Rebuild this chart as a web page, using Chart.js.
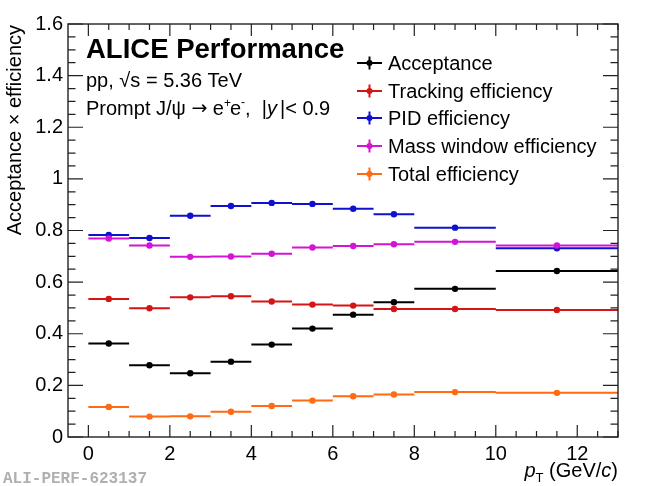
<!DOCTYPE html>
<html>
<head>
<meta charset="utf-8">
<script src="https://cdn.jsdelivr.net/npm/chart.js@4"></script>
<style>
  html, body { margin: 0; padding: 0; background: #fff; }
  #wrap { width: 650px; height: 486px; }
</style>
</head>
<body>
<div id="wrap"><canvas id="effChart" width="650" height="486"></canvas></div>
<script>
// pT bins (GeV/c)
const binLo = [0, 1, 2, 3, 4, 5, 6, 7, 8, 10];
const binHi = [1, 2, 3, 4, 5, 6, 7, 8, 10, 13];

// values per bin
const acceptance = [0.362, 0.278, 0.247, 0.292, 0.358, 0.420, 0.474, 0.522, 0.574, 0.643];
const tracking   = [0.535, 0.499, 0.541, 0.545, 0.525, 0.513, 0.509, 0.496, 0.496, 0.492];
const pid        = [0.783, 0.771, 0.857, 0.895, 0.907, 0.903, 0.884, 0.863, 0.811, 0.731];
const massWindow = [0.769, 0.742, 0.698, 0.699, 0.710, 0.734, 0.740, 0.747, 0.756, 0.742];
const total      = [0.116, 0.079, 0.080, 0.098, 0.120, 0.141, 0.158, 0.165, 0.174, 0.171];

const seriesNames = ['Acceptance', 'Tracking efficiency', 'PID efficiency', 'Mass window efficiency', 'Total efficiency'];
const seriesColors = ['#000000', '#d41515', '#1010d0', '#d414d4', '#ff6a12'];

const xTicks = [0, 2, 4, 6, 8, 10, 12];
const yTicks = [0, 0.2, 0.4, 0.6, 0.8, 1, 1.2, 1.4, 1.6];
const yTickLabels = ['0', '0.2', '0.4', '0.6', '0.8', '1', '1.2', '1.4', '1.6'];

const FONT = "'Liberation Sans', Arial, Helvetica, sans-serif";
const FS = 20;

// each bin -> low edge, centre (marker), high edge, then a gap
function binPoints(vals) {
    const pts = [];
    vals.forEach((v, i) => {
        pts.push({x: binLo[i], y: v});
        pts.push({x: (binLo[i] + binHi[i]) / 2, y: v});
        pts.push({x: binHi[i], y: v});
        pts.push({x: binHi[i], y: null});
    });
    return pts;
}

const allSeries = [acceptance, tracking, pid, massWindow, total];
const datasets = allSeries.map((vals, k) => ({
    label: seriesNames[k],
    data: binPoints(vals),
    showLine: true,
    spanGaps: false,
    borderColor: seriesColors[k],
    backgroundColor: seriesColors[k],
    borderWidth: 2,
    pointRadius: ctx => (ctx.dataIndex % 4 === 1 ? 3.2 : 0),
    pointHoverRadius: 0,
    pointBorderWidth: 0,
    order: 5 - k
}));

// frame, inward ticks and all the text ROOT puts on the pad
const padDecor = {
    id: 'padDecor',
    afterDraw(chart) {
        const ctx = chart.ctx;
        const a = chart.chartArea;
        const xs = chart.scales.x, ys = chart.scales.y;
        ctx.save();

        // frame
        ctx.strokeStyle = '#222';
        ctx.lineWidth = 1.4;
        ctx.strokeRect(a.left, a.top, a.right - a.left, a.bottom - a.top);

        // x ticks (bottom and top), major every 2, minor every 0.5
        ctx.lineWidth = 1.2;
        ctx.beginPath();
        for (let v = 0; v <= 13.001; v += 0.5) {
            const px = xs.getPixelForValue(v);
            const len = (Math.abs(v % 2) < 1e-6) ? 12 : 6;
            ctx.moveTo(px, a.bottom); ctx.lineTo(px, a.bottom - len);
            ctx.moveTo(px, a.top); ctx.lineTo(px, a.top + len);
        }
        // y ticks (left and right), major every 0.2, minor every 0.05
        for (let i = 0; i <= 32; i++) {
            const v = i * 0.05;
            const py = ys.getPixelForValue(v);
            const len = (i % 4 === 0) ? 15 : 7.5;
            ctx.moveTo(a.left, py); ctx.lineTo(a.left + len, py);
            ctx.moveTo(a.right, py); ctx.lineTo(a.right - len, py);
        }
        ctx.stroke();

        ctx.fillStyle = '#000';
        ctx.textBaseline = 'alphabetic';
        ctx.textAlign = 'left';

        // ALICE Performance
        ctx.font = 'bold 27.5px ' + FONT;
        ctx.fillText('ALICE Performance', 86, 58);

        // pp, sqrt(s) = 5.36 TeV
        ctx.font = FS + 'px ' + FONT;
        let x = 86;
        const y1 = 87;
        ctx.fillText('pp, \u221As = 5.36 TeV', x, y1);

        // Prompt J/psi -> e+e-,  |y |< 0.9
        const y2 = 115;
        ctx.font = FS + 'px ' + FONT;
        const t1 = 'Prompt J/\u03C8 ';
        ctx.fillText(t1, x, y2); x += ctx.measureText(t1).width;
        ctx.font = "19px 'DejaVu Sans', " + FONT;
        ctx.fillText('\u2192', x, y2 - 1); x += ctx.measureText('\u2192').width;
        ctx.font = FS + 'px ' + FONT;
        ctx.fillText(' e', x, y2); x += ctx.measureText(' e').width;
        ctx.font = '12px ' + FONT;
        ctx.fillText('+', x, y2 - 8); x += ctx.measureText('+').width - 1;
        ctx.font = FS + 'px ' + FONT;
        ctx.fillText('e', x, y2); x += ctx.measureText('e').width;
        ctx.font = '12px ' + FONT;
        ctx.fillText('-', x, y2 - 9); x += ctx.measureText('-').width;
        ctx.font = FS + 'px ' + FONT;
        ctx.fillText(',  |', x, y2); x += ctx.measureText(',  |').width;
        ctx.font = 'italic ' + FS + 'px ' + FONT;
        ctx.fillText('y', x, y2); x += ctx.measureText('y').width + 3;
        ctx.font = FS + 'px ' + FONT;
        ctx.fillText('|< 0.9', x, y2);

        // legend
        const legY = [63, 91, 118, 146, 174];
        seriesNames.forEach((name, k) => {
            const cy = legY[k];
            ctx.strokeStyle = seriesColors[k];
            ctx.fillStyle = seriesColors[k];
            ctx.lineWidth = 2;
            ctx.beginPath();
            ctx.moveTo(357, cy); ctx.lineTo(382, cy);
            ctx.moveTo(369.5, cy - 6.5); ctx.lineTo(369.5, cy + 6.5);
            ctx.stroke();
            ctx.beginPath(); ctx.arc(369.5, cy, 3, 0, Math.PI * 2); ctx.fill();
            ctx.fillStyle = '#000';
            ctx.font = FS + 'px ' + FONT;
            ctx.fillText(name, 388, cy + 7);
        });

        // y axis title
        ctx.save();
        ctx.translate(21, 25);
        ctx.rotate(-Math.PI / 2);
        ctx.textAlign = 'right';
        ctx.font = FS + 'px ' + FONT;
        ctx.fillStyle = '#000';
        ctx.fillText('Acceptance \u00D7 efficiency', 0, 0);
        ctx.restore();

        // x axis title: p_T (GeV/c), right aligned to frame
        ctx.fillStyle = '#000';
        const y3 = 477;
        ctx.font = 'italic ' + FS + 'px ' + FONT;
        const pW = ctx.measureText('p').width;
        ctx.font = '13px ' + FONT;
        const TW = ctx.measureText('T').width;
        ctx.font = FS + 'px ' + FONT;
        const gW = ctx.measureText(' (GeV/').width;
        const pW2 = ctx.measureText(')').width;
        ctx.font = 'italic ' + FS + 'px ' + FONT;
        const cW = ctx.measureText('c').width;
        x = a.right - (pW + TW + gW + cW + pW2);
        ctx.font = 'italic ' + FS + 'px ' + FONT;
        ctx.fillText('p', x, y3); x += pW;
        ctx.font = '13px ' + FONT;
        ctx.fillText('T', x, y3 + 5); x += TW;
        ctx.font = FS + 'px ' + FONT;
        ctx.fillText(' (GeV/', x, y3); x += gW;
        ctx.font = 'italic ' + FS + 'px ' + FONT;
        ctx.fillText('c', x, y3); x += cW;
        ctx.font = FS + 'px ' + FONT;
        ctx.fillText(')', x, y3);

        // figure id
        ctx.fillStyle = '#b0b0b0';
        ctx.font = "bold 16px 'Liberation Mono', 'DejaVu Sans Mono', monospace";
        ctx.fillText('ALI-PERF-623137', 3, 483);

        ctx.restore();
    }
};

document.addEventListener('DOMContentLoaded', function() {
    const ctx = document.getElementById('effChart').getContext('2d');
    new Chart(ctx, {
        type: 'scatter',
        data: { datasets: datasets },
        options: {
            responsive: false,
            animation: false,
            devicePixelRatio: 1,
            layout: { padding: { top: 24, right: 32, left: 0, bottom: 0 } },
            plugins: {
                legend: { display: false },
                tooltip: { enabled: false }
            },
            scales: {
                x: {
                    type: 'linear',
                    min: -0.5,
                    max: 13,
                    grid: { display: false, drawTicks: false },
                    border: { display: false },
                    afterBuildTicks: scale => { scale.ticks = xTicks.map(v => ({value: v})); },
                    afterFit: scale => { scale.height = 49; },
                    ticks: {
                        color: '#000',
                        padding: 5,
                        maxRotation: 0,
                        font: { family: FONT, size: FS },
                        callback: v => String(v)
                    }
                },
                y: {
                    type: 'linear',
                    min: 0,
                    max: 1.6,
                    grid: { display: false, drawTicks: false },
                    border: { display: false },
                    afterBuildTicks: scale => { scale.ticks = yTicks.map(v => ({value: v})); },
                    afterFit: scale => { scale.width = 68; },
                    ticks: {
                        color: '#000',
                        padding: 5,
                        font: { family: FONT, size: FS },
                        callback: (v, i) => yTickLabels[i]
                    }
                }
            }
        },
        plugins: [padDecor]
    });
});
</script>
</body>
</html>
